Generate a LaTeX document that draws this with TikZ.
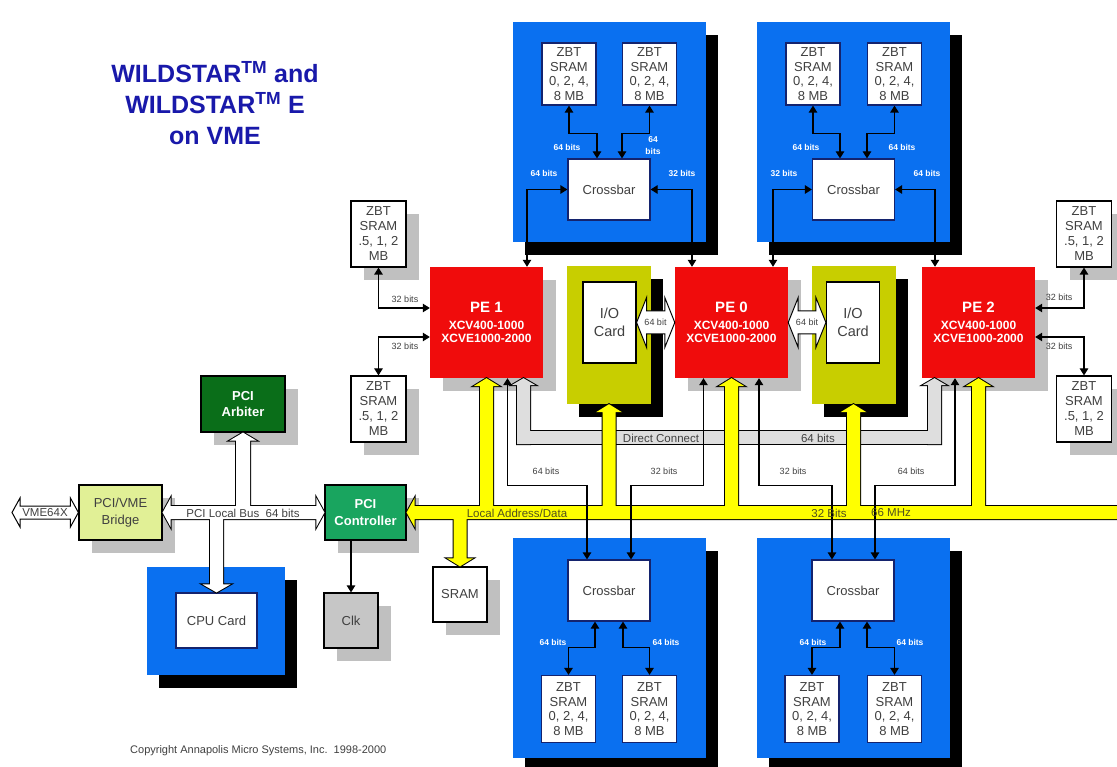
\documentclass[tikz,border=0pt]{standalone}
\usepackage{fontspec}
\setmainfont{Liberation Sans}
\usetikzlibrary{arrows.meta,calc,shadows}

\definecolor{boardblue}{RGB}{10,112,240}
\definecolor{pered}{RGB}{240,12,12}
\definecolor{ioolive}{RGB}{200,206,0}
\definecolor{busyellow}{RGB}{255,255,0}
\definecolor{shadowgray}{RGB}{192,192,192}
\definecolor{arbgreen}{RGB}{10,110,25}
\definecolor{ctrlgreen}{RGB}{25,165,95}
\definecolor{bridgegreen}{RGB}{225,240,150}
\definecolor{clkgray}{RGB}{198,198,198}
\definecolor{textgray}{RGB}{64,64,64}
\definecolor{titleblue}{RGB}{25,25,170}
\definecolor{bandgray}{RGB}{222,222,222}
\definecolor{chipnavy}{RGB}{20,35,110}
\definecolor{busolive}{RGB}{80,80,30}

% wide arrow: style, tail, tip, half shaft, half head, head length
\newcommand\blockarrow[6]{%
  \coordinate (bahb) at ($(#3)!#6!(#2)$);
  \path[#1] ($(#2)!#4!90:(#3)$) -- ($(bahb)!#4!90:(#3)$) -- ($(bahb)!#5!90:(#3)$) -- (#3)
    -- ($(bahb)!#5!-90:(#3)$) -- ($(bahb)!#4!-90:(#3)$) -- ($(#2)!#4!-90:(#3)$) -- cycle;}
% wide arrow with a head at both ends
\newcommand\dblarrow[6]{%
  \coordinate (dahb) at ($(#3)!#6!(#2)$);
  \coordinate (dahe) at ($(#2)!#6!(#3)$);
  \path[#1] (#2) -- ($(dahe)!#5!90:(#3)$) -- ($(dahe)!#4!90:(#3)$) -- ($(dahb)!#4!90:(#3)$)
    -- ($(dahb)!#5!90:(#3)$) -- (#3) -- ($(dahb)!#5!-90:(#3)$) -- ($(dahb)!#4!-90:(#3)$)
    -- ($(dahe)!#4!-90:(#3)$) -- ($(dahe)!#5!-90:(#3)$) -- cycle;}
% the three buses, drawn once with outline and once with fill only
\newcommand\dcbus[1]{%
  \path[#1] ($(dcL)+(-6.5,0)$) rectangle ($(dcR)+(6.5,-13)$);
  \blockarrow{#1}{dcL}{dcLtip}{6.5pt}{12pt}{7pt}
  \blockarrow{#1}{dcR}{dcRtip}{6.5pt}{12pt}{7pt}}
\newcommand\localbus[1]{%
  \blockarrow{#1}{busend}{ctrl.east}{6.5pt}{14.5pt}{8pt}
  \blockarrow{#1}{jPa}{pe1.south}{6.5pt}{13pt}{8pt}
  \blockarrow{#1}{jIa}{ioL.south}{6.5pt}{13pt}{8pt}
  \blockarrow{#1}{jPb}{pe0.south}{6.5pt}{13pt}{8pt}
  \blockarrow{#1}{jIb}{ioR.south}{6.5pt}{13pt}{8pt}
  \blockarrow{#1}{jPc}{pe2.south}{6.5pt}{13pt}{8pt}
  \blockarrow{#1}{jSr}{sram.north}{6.5pt}{13pt}{8pt}}
\newcommand\pcibus[1]{%
  \dblarrow{#1}{bridge.east}{ctrl.west}{6.5pt}{14.5pt}{8pt}
  \blockarrow{#1}{jArb}{arbiter.south}{7pt}{13.5pt}{8pt}
  \blockarrow{#1}{jCpu}{cpucard.north}{6.5pt}{14pt}{8pt}}

\begin{document}
\begin{tikzpicture}[x=1pt, y=-1pt,
  every node/.style={inner sep=0pt},
  grayshadow/.style={drop shadow={shadow xshift=13pt, shadow yshift=-13pt, fill=shadowgray, opacity=1}},
  blackshadow/.style={drop shadow={shadow xshift=12pt, shadow yshift=-13pt, fill=black, opacity=1}},
  titletext/.style={align=center, text=titleblue, font=\bfseries\fontsize{25}{31}\selectfont},
  board/.style={fill=boardblue, minimum width=193pt, minimum height=220pt, blackshadow},
  iocard/.style={fill=ioolive, minimum width=84pt, minimum height=138pt, blackshadow},
  pebox/.style={fill=pered, minimum width=113pt, minimum height=111pt, align=center, text=white, font=\bfseries\fontsize{12}{13.5}\selectfont, grayshadow},
  boxtext/.style={align=center, text=textgray, font=\fontsize{13}{14.5}\selectfont},
  memchip/.style={boxtext, draw=chipnavy, line width=1.2pt, fill=white, minimum width=54pt, minimum height=62pt},
  sidechip/.style={memchip, draw=black, minimum width=55pt, minimum height=66pt, font=\fontsize{13}{15}\selectfont, grayshadow},
  xbar/.style={boxtext, draw=chipnavy, line width=1.2pt, fill=white, minimum width=82pt, minimum height=61pt},
  iobox/.style={boxtext, draw=black, line width=1.2pt, fill=white, minimum width=53pt, minimum height=81pt, font=\fontsize{14.5}{18}\selectfont},
  pcibox/.style={boxtext, draw=black, line width=1.2pt, minimum width=82pt, minimum height=55pt, font=\fontsize{13}{16.5}\selectfont, grayshadow},
  pcibold/.style={pcibox, text=white, font=\bfseries\fontsize{13}{16.5}\selectfont},
  boardtag/.style={align=center, text=white, font=\bfseries\fontsize{8.5}{12.5}\selectfont},
  linktag/.style={text=textgray, font=\fontsize{9}{10}\selectfont},
  bustag/.style={text=textgray, font=\fontsize{11.5}{13}\selectfont},
  busline/.style={draw=black, line width=2pt},
  biarrow/.style={{Triangle[width=8.5pt,length=7pt]}-{Triangle[width=8.5pt,length=7pt]}, line width=1.2pt},
  onearrow/.style={-{Triangle[width=8.5pt,length=7pt]}, line width=1.2pt}]

\fill[white] (0,0) rectangle (1117,767);
\useasboundingbox (0,0) rectangle (1117,767);

\node[titletext] (title) at (215,103) {WILDSTAR\textsuperscript{TM} and\\WILDSTAR\textsuperscript{TM} E\\on VME};

% memory boards
\node[board] (tlboard) at (609,132) {};
\node[board] (trboard) at (853,132) {};
\node[board] (blboard) at (609,647.5) {};
\node[board] (brboard) at (853,647.5) {};

% I/O cards and processing elements
\node[iocard] (ioL) at (609,335) {};
\node[iocard] (ioR) at (853.5,335) {};
\node[pebox] (pe1) at (486.5,322.5) {{\fontsize{15}{17}\selectfont PE 1}\\[3pt]XCV400-1000\\XCVE1000-2000};
\node[pebox] (pe0) at (731.5,322.5) {{\fontsize{15}{17}\selectfont PE 0}\\[3pt]XCV400-1000\\XCVE1000-2000};
\node[pebox] (pe2) at (978.5,322.5) {{\fontsize{15}{17}\selectfont PE 2}\\[3pt]XCV400-1000\\XCVE1000-2000};

\node[sidechip] (sramL1) at (378.5,234) {ZBT\\SRAM\\.5, 1, 2\\MB};
\node[sidechip] (sramL2) at (378.5,409) {ZBT\\SRAM\\.5, 1, 2\\MB};
\node[sidechip] (sramR1) at (1084,234) {ZBT\\SRAM\\.5, 1, 2\\MB};
\node[sidechip] (sramR2) at (1084,409) {ZBT\\SRAM\\.5, 1, 2\\MB};

% PCI side
\node[pcibold, fill=arbgreen, minimum width=84pt, minimum height=56pt] (arbiter) at (243,404) {PCI\\Arbiter};
\node[pcibox, fill=bridgegreen, minimum width=83pt] (bridge) at (120.5,512.5) {PCI/VME\\Bridge};
\node[pcibold, fill=ctrlgreen, minimum width=81pt] (ctrl) at (365.5,512.5) {PCI\\Controller};
\node[board, minimum width=138pt, minimum height=108pt] (cpuboard) at (216,621) {};
\node[pcibox, fill=clkgray, minimum width=54pt] (clk) at (351,620.5) {Clk};
\node[pcibox, fill=white, minimum width=54pt] (sram) at (460,594.5) {SRAM};

% parts on the boards
\node[memchip] (tlsram1) at (569,74) {ZBT\\SRAM\\0, 2, 4,\\8 MB};
\node[memchip] (tlsram2) at (649.5,74) {ZBT\\SRAM\\0, 2, 4,\\8 MB};
\node[memchip] (trsram1) at (813,74) {ZBT\\SRAM\\0, 2, 4,\\8 MB};
\node[memchip] (trsram2) at (894.5,74) {ZBT\\SRAM\\0, 2, 4,\\8 MB};
\node[xbar] (tlxbar) at (609,189.5) {Crossbar};
\node[xbar] (trxbar) at (853.5,189.5) {Crossbar};
\node[xbar] (blxbar) at (609,590.5) {Crossbar};
\node[xbar] (brxbar) at (853,590.5) {Crossbar};
\node[memchip, minimum height=67pt] (blsram1) at (568.5,709) {ZBT\\SRAM\\0, 2, 4,\\8 MB};
\node[memchip, minimum height=67pt] (blsram2) at (649.5,709) {ZBT\\SRAM\\0, 2, 4,\\8 MB};
\node[memchip, minimum height=67pt] (brsram1) at (812,709) {ZBT\\SRAM\\0, 2, 4,\\8 MB};
\node[memchip, minimum height=67pt] (brsram2) at (894.5,709) {ZBT\\SRAM\\0, 2, 4,\\8 MB};
\node[iobox] (iocardL) at (609.5,322.5) {I/O\\Card};
\node[iobox] (iocardR) at (853,322.5) {I/O\\Card};
\node[xbar, minimum width=81pt, minimum height=55pt] (cpucard) at (216.5,620.5) {CPU Card};

% bus junctions
\coordinate (busend) at (1130,512.5);
\coordinate (jPa) at (pe1.south |- ctrl.east);
\coordinate (jIa) at (ioL.south |- ctrl.east);
\coordinate (jPb) at (pe0.south |- ctrl.east);
\coordinate (jIb) at (ioR.south |- ctrl.east);
\coordinate (jPc) at (pe2.south |- ctrl.east);
\coordinate (jSr) at (sram.north |- ctrl.east);
\coordinate (jArb) at (arbiter.south |- bridge.east);
\coordinate (jCpu) at (cpucard.north |- bridge.east);
\coordinate (dcL) at (523.5,444);
\coordinate (dcR) at (934.5,444);
\coordinate (dcLtip) at (dcL |- pe1.south);
\coordinate (dcRtip) at (dcR |- pe2.south);
\coordinate (vme) at (12,512.5);

% buses
\dcbus{busline, fill=bandgray}
\dcbus{fill=bandgray}
\localbus{busline, fill=busyellow}
\localbus{fill=busyellow}
\pcibus{busline, fill=white}
\pcibus{fill=white}
\dblarrow{draw, line width=1pt, fill=white}{vme}{bridge.west}{6.5pt}{14.5pt}{8pt}
\dblarrow{draw, line width=1pt, fill=white}{iocardL.east}{pe0.west}{11.5pt}{25pt}{10pt}
\dblarrow{draw, line width=1pt, fill=white}{pe0.east}{iocardR.west}{11.5pt}{25pt}{10pt}

% links on the upper boards
\draw[biarrow] (tlsram1.south) -- ++(0,28) -| ([xshift=-12pt]tlxbar.north);
\draw[biarrow] (tlsram2.south) -- ++(0,28) -| ([xshift=13pt]tlxbar.north);
\draw[biarrow] (tlxbar.west) -| ([xshift=40.5pt]pe1.north);
\draw[biarrow] (tlxbar.east) -| ([xshift=-39.5pt]pe0.north);
\draw[biarrow] (trsram1.south) -- ++(0,28) -| ([xshift=-13.5pt]trxbar.north);
\draw[biarrow] (trsram2.south) -- ++(0,28) -| ([xshift=13.5pt]trxbar.north);
\draw[biarrow] (trxbar.west) -| ([xshift=41.5pt]pe0.north);
\draw[biarrow] (trxbar.east) -| ([xshift=-43.5pt]pe2.north);
% PE local memories
\draw[biarrow] (sramL1.south) |- ([yshift=14.5pt]pe1.west);
\draw[biarrow] (sramL2.north) |- ([yshift=-14.5pt]pe1.west);
\draw[biarrow] (sramR1.south) |- ([yshift=14.5pt]pe2.east);
\draw[biarrow] (sramR2.north) |- ([yshift=-14.5pt]pe2.east);
% links to the lower boards
\draw[biarrow] ([xshift=21pt]pe1.south) -- ++(0,107) -| ([xshift=-22pt]blxbar.north);
\draw[biarrow] ([xshift=-28pt]pe0.south) -- ++(0,107) -| ([xshift=22pt]blxbar.north);
\draw[biarrow] ([xshift=27.5pt]pe0.south) -- ++(0,107) -| ([xshift=-21pt]brxbar.north);
\draw[biarrow] ([xshift=-23.5pt]pe2.south) -- ++(0,107) -| ([xshift=22pt]brxbar.north);
\draw[biarrow] ([xshift=-14pt]blxbar.south) -- ++(0,26) -| (blsram1.north);
\draw[biarrow] ([xshift=14pt]blxbar.south) -- ++(0,26) -| (blsram2.north);
\draw[biarrow] ([xshift=-13pt]brxbar.south) -- ++(0,26) -| (brsram1.north);
\draw[biarrow] ([xshift=14pt]brxbar.south) -- ++(0,26) -| (brsram2.north);
\draw[onearrow] (clk.north |- ctrl.south) -- (clk.north);

% labels
\node[boardtag] (tl64a) at (567,147) {64 bits};
\node[boardtag] (tl64b) at (653,145.5) {64\\bits};
\node[boardtag] (tl64c) at (544,173) {64 bits};
\node[boardtag] (tl32) at (682,173) {32 bits};
\node[boardtag] (tr64a) at (806,147) {64 bits};
\node[boardtag] (tr64b) at (902,147) {64 bits};
\node[boardtag] (tr32) at (784,173) {32 bits};
\node[boardtag] (tr64c) at (927,173) {64 bits};
\node[boardtag] (bl64a) at (553,642) {64 bits};
\node[boardtag] (bl64b) at (666,642) {64 bits};
\node[boardtag] (br64a) at (813,642) {64 bits};
\node[boardtag] (br64b) at (910,642) {64 bits};
\node[linktag] (l32a) at (405,299) {32 bits};
\node[linktag] (l32b) at (405,346) {32 bits};
\node[linktag] (r32a) at (1059,297) {32 bits};
\node[linktag] (r32b) at (1059,346) {32 bits};
\node[linktag] (b64a) at (546,471) {64 bits};
\node[linktag] (b32a) at (664,471) {32 bits};
\node[linktag] (b32b) at (793,471) {32 bits};
\node[linktag] (b64b) at (911,471) {64 bits};
\node[linktag] (io64L) at (655.5,322.5) {64 bit};
\node[linktag] (io64R) at (807,322.5) {64 bit};
\node[bustag] (dclabel) at (661,438) {Direct Connect};
\node[bustag] (dc64) at (818,438) {64 bits};
\node[bustag, text=busolive] (ladlabel) at (517,513) {Local Address/Data};
\node[bustag, text=busolive] (lad32) at (829,513) {32 Bits};
\node[bustag, text=busolive] (lad66) at (891,513) {66 MHz};
\node[bustag] (pcilabel) at (243,513) {PCI Local Bus\ \ 64 bits};
\node[bustag] (vmelabel) at (45,512.5) {VME64X};
\node[bustag, font=\fontsize{11}{13}\selectfont, anchor=west] (copyright) at (130,751) {Copyright Annapolis Micro Systems, Inc.\ \ 1998-2000};
\end{tikzpicture}
\end{document}
